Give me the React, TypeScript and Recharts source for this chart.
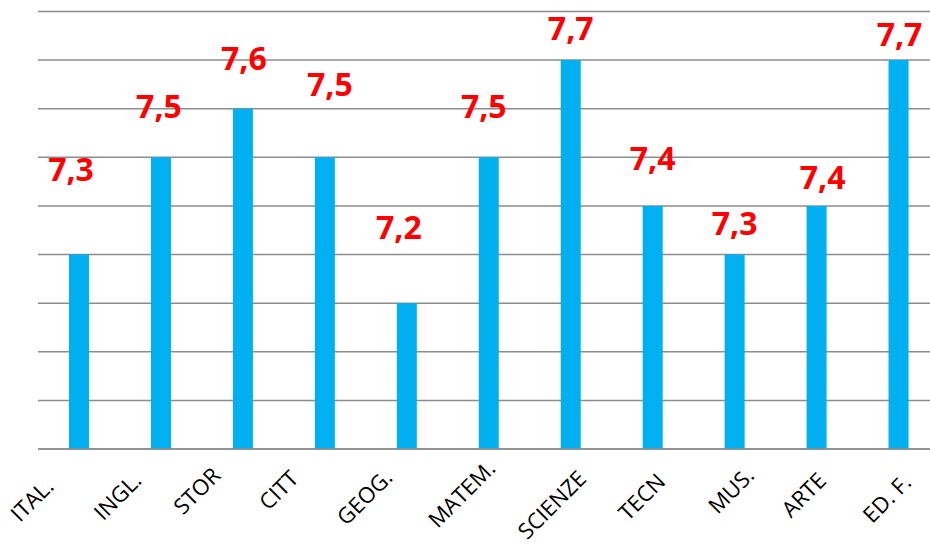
import { BarChart, Bar, XAxis, YAxis, CartesianGrid, LabelList } from "recharts";

const SUBJECTS = [
  "ITAL.",
  "INGL.",
  "STOR",
  "CITT",
  "GEOG.",
  "MATEM.",
  "SCIENZE",
  "TECN",
  "MUS.",
  "ARTE",
  "ED. F.",
];

const AVERAGES = [7.3, 7.5, 7.6, 7.5, 7.2, 7.5, 7.7, 7.4, 7.3, 7.4, 7.7];

const Y_TICKS = [6.9, 7.0, 7.1, 7.2, 7.3, 7.4, 7.5, 7.6, 7.7, 7.8];

// hand-placed value labels: [shift x, lift above bar top]
const VALUE_NUDGE = [
  [-8, 74], [-2, 39], [1, 39], [5, 61], [-8, 64], [-5, 39],
  [0, 20], [0, 36], [0, 20], [6, 17], [1, 14],
];

// rotated category labels: end of text relative to tick
const TICK_NUDGE = [
  [-24, 39], [-18, 33], [-21, 28], [-25, 31], [-13, 30], [8, 21],
  [17, 31], [14, 34], [21, 28], [11, 33], [14, 35],
];

const data = SUBJECTS.map((name, i) => ({ name, value: AVERAGES[i] }));

const GRID = "#8c8c8c";

function SubjectTick(props: any) {
  const { x, y, payload } = props;
  const i = payload?.index ?? props.index ?? 0;
  const [dx, dy] = TICK_NUDGE[i] || [0, 30];
  return (
    <g transform={`translate(${x + dx},${y + dy})`}>
      <text
        x={0}
        y={0}
        textAnchor="end"
        transform="rotate(-45)"
        fill="#000"
        fontSize={22}
        fontFamily="'Open Sans', sans-serif"
      >
        {payload.value}
      </text>
    </g>
  );
}

function ValueLabel(props: any) {
  const { x, y, width, value, index } = props;
  const [dx, lift] = VALUE_NUDGE[index] || [0, 20];
  return (
    <text
      x={x + width / 2 + dx}
      y={y - lift}
      textAnchor="middle"
      fill="#ff0000"
      fontSize={32}
      fontWeight={700}
      fontFamily="'Open Sans', sans-serif"
    >
      {Number(value).toFixed(1).replace(".", ",")}
    </text>
  );
}

export default function App() {
  return (
    <div
      style={{
        position: "fixed",
        left: 0,
        top: 0,
        width: 930,
        height: 551,
        overflow: "hidden",
        background: "#fff",
      }}
    >
      <BarChart
        width={950}
        height={551}
        data={data}
        margin={{ top: 11.5, right: 10.5, left: 38, bottom: 0 }}
      >
        <CartesianGrid vertical={false} stroke={GRID} strokeWidth={1.5} />
        <YAxis hide domain={[6.9, 7.8]} ticks={Y_TICKS} allowDataOverflow />
        <XAxis
          dataKey="name"
          height={102}
          interval={0}
          tickLine={false}
          tickSize={0}
          tickMargin={0}
          axisLine={{ stroke: GRID, strokeWidth: 1.5 }}
          tick={<SubjectTick />}
        />
        <Bar dataKey="value" fill="#00B0F0" barSize={20} isAnimationActive={false}>
          <LabelList dataKey="value" content={<ValueLabel />} />
        </Bar>
      </BarChart>
    </div>
  );
}
